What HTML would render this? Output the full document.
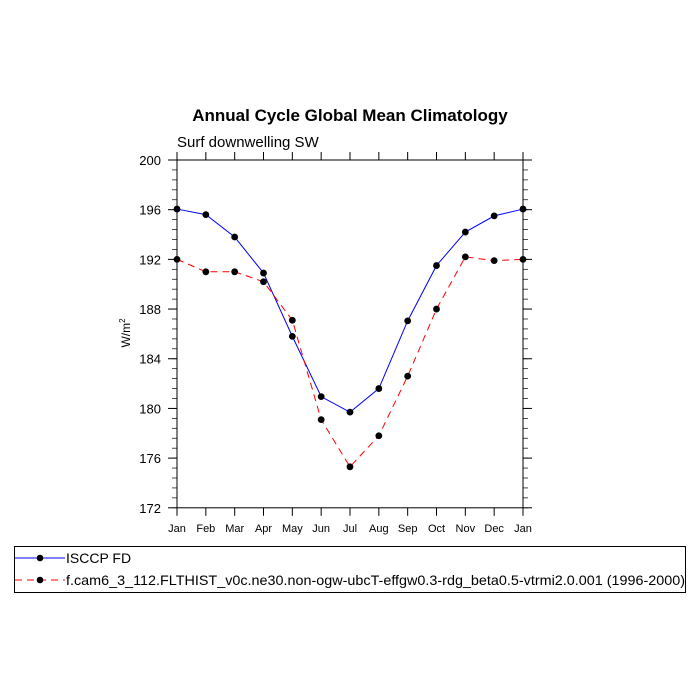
<!DOCTYPE html>
<html><head><meta charset="utf-8"><style>
body{margin:0;background:#fff}
svg{display:block;font-family:"Liberation Sans",Arial,sans-serif}
</style></head><body>
<svg id="chart" width="700" height="700" viewBox="0 0 700 700">
<text x="350" y="121" text-anchor="middle" font-size="17" font-weight="bold">Annual Cycle Global Mean Climatology</text>
<text x="177" y="147" font-size="15">Surf downwelling SW</text>
<text transform="translate(130,333) rotate(-90)" text-anchor="middle" font-size="12">W/m<tspan font-size="8" dy="-5">2</tspan></text>
<g id="axes"></g>
<g id="series"></g>
<rect x="14.5" y="546.5" width="671" height="46" fill="none" stroke="#000" stroke-width="1"/>
<g>
<line x1="15" y1="558" x2="65" y2="558" stroke="#0000ff" stroke-width="1"/>
<circle cx="40" cy="558" r="3.3" fill="#000"/>
<text x="66" y="563" font-size="14">ISCCP FD</text>
</g>
<g>
<line x1="15" y1="580" x2="65" y2="580" stroke="#ff0000" stroke-width="1" stroke-dasharray="7,5"/>
<circle cx="40" cy="580" r="3.3" fill="#000"/>
<text x="66" y="585" font-size="14" textLength="619" lengthAdjust="spacingAndGlyphs">f.cam6_3_112.FLTHIST_v0c.ne30.non-ogw-ubcT-effgw0.3-rdg_beta0.5-vtrmi2.0.001 (1996-2000)</text>
</g>
</svg>
<script>
const months = ["Jan","Feb","Mar","Apr","May","Jun","Jul","Aug","Sep","Oct","Nov","Dec","Jan"];
const isccpValues = [196.05,195.6,193.8,190.9,185.8,180.95,179.7,181.6,187.05,191.5,194.2,195.5,196.05];
const modelValues = [192.0,191.0,191.0,190.2,187.1,179.1,175.3,177.8,182.6,188.0,192.2,191.9,192.0];
const yTicks = [172,176,180,184,188,192,196,200];

const NS="http://www.w3.org/2000/svg";
const X0=177,X1=523,Y0=507.8,Y1=160,YMIN=172,YMAX=200;
const xs=i=>X0+(X1-X0)*i/(months.length-1);
const ys=v=>Y0+(Y1-Y0)*(v-YMIN)/(YMAX-YMIN);
function mk(tag,attrs,parent){const e=document.createElementNS(NS,tag);for(const k in attrs)e.setAttribute(k,attrs[k]);parent.appendChild(e);return e;}
const ax=document.getElementById('axes');
const frame=mk('rect',{x:X0,y:Y1,width:X1-X0,height:Y0-Y1,fill:'none',stroke:'#000','stroke-width':1},ax);


months.forEach((m,i)=>{
  const x=xs(i);
  mk('line',{x1:x,y1:Y0,x2:x,y2:Y0+8,stroke:'#000'},ax);
  mk('line',{x1:x,y1:Y1,x2:x,y2:Y1-8,stroke:'#000'},ax);
  const t=mk('text',{x:x,y:Y0+24,'text-anchor':'middle','font-size':11},ax);
  t.textContent=m;
  
  
});
for(let k=0;k<=35;k++){
  const v=YMIN+k*0.8;const y=ys(v);
  mk('line',{x1:X0,y1:y,x2:X0-5,y2:y,stroke:'#000','stroke-width':0.7},ax);
  mk('line',{x1:X1,y1:y,x2:X1+5,y2:y,stroke:'#000','stroke-width':0.7},ax);
}
yTicks.forEach(v=>{
  const y=ys(v);
  mk('line',{x1:X0,y1:y,x2:X0-9,y2:y,stroke:'#000'},ax);
  mk('line',{x1:X1,y1:y,x2:X1+9,y2:y,stroke:'#000'},ax);
  const t=mk('text',{x:161,y:y+5,'text-anchor':'end','font-size':13},ax);
  t.textContent=v;
  
  
});
const sg=document.getElementById('series');
function series(vals,color,dash,name){
  const g=mk('g',{},sg);
  
  
  const pts=vals.map((v,i)=>xs(i)+','+ys(v)).join(' ');
  const a={points:pts,fill:'none',stroke:color,'stroke-width':1};
  if(dash)a['stroke-dasharray']=dash;
  mk('polyline',a,g);
  vals.forEach((v,i)=>{
    const c=mk('circle',{cx:xs(i),cy:ys(v),r:3.4,fill:'#000'},g);
    
    
  });
}
series(isccpValues,'#0000ff',null,'isccp-series');
series(modelValues,'#ff0000','7,5','model-series');
</script>
</body></html>
